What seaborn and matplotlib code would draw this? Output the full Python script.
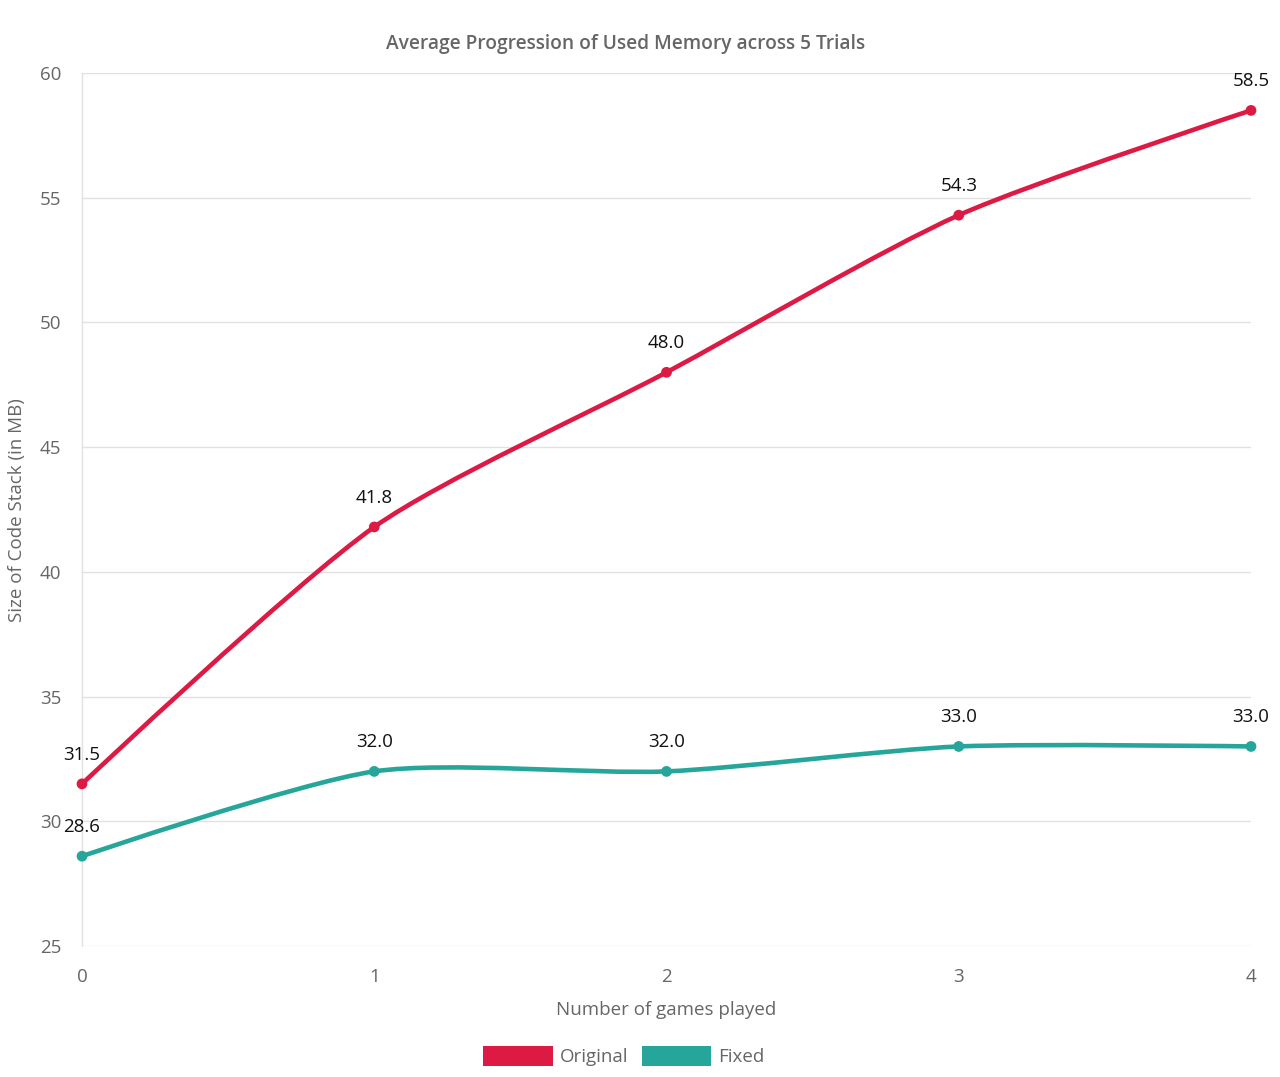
import numpy as np
import pandas as pd
import matplotlib
matplotlib.use("Agg")
import matplotlib.pyplot as plt
from matplotlib.path import Path
from matplotlib.patches import PathPatch, Patch
import seaborn as sns

games = [0, 1, 2, 3, 4]
original = [31.5, 41.8, 48.0, 54.3, 58.5]
fixed = [28.6, 32.0, 32.0, 33.0, 33.0]
series_names = ["Original", "Fixed"]
colors = {"Original": "#DC1A44", "Fixed": "#26A69A"}
title = "Average Progression of Used Memory across 5 Trials"
xlabel = "Number of games played"
ylabel = "Size of Code Stack (in MB)"
yticks = [25, 30, 35, 40, 45, 50, 55, 60]

sns.set_theme(style="white")
plt.rcParams['font.family'] = ['Open Sans', 'DejaVu Sans']

df = pd.concat([
    pd.DataFrame({"games": games, "value": original, "series": "Original"}),
    pd.DataFrame({"games": games, "value": fixed, "series": "Fixed"}),
])

W, H = 1280, 1077
fig = plt.figure(figsize=(W / 100, H / 100), dpi=100)
L, R, T, B = 82, 1251, 73, 946
ax = fig.add_axes([L / W, 1 - B / H, (R - L) / W, (B - T) / H])
ax.set_xlim(0, 4)
ax.set_ylim(25, 60)

grid_c = "#e1e1e1"
ax.set_yticks(yticks)
ax.set_xticks(games)
ax.grid(axis="y", color=grid_c, linewidth=1)
ax.grid(axis="x", visible=False)
for s in ["top", "right", "bottom"]:
    ax.spines[s].set_visible(False)
ax.spines["left"].set_color(grid_c)
ax.spines["left"].set_linewidth(1)
ax.tick_params(axis="y", length=11, color=grid_c, labelsize=13.5, labelcolor="#666666", pad=4)
ax.tick_params(axis="x", length=8, color=grid_c, labelsize=13.5, labelcolor="#666666", pad=8)
ax.set_axisbelow(True)

# smooth curve (Chart.js style bezier) computed in pixel space
sx = (R - L) / 4.0
sy = (B - T) / 35.0

def spline_path(xs, ys, tension=0.25):
    px = np.array(xs, float) * sx
    py = np.array(ys, float) * sy
    n = len(px)
    cin = [None] * n
    cout = [None] * n
    for i in range(n):
        p = np.array([px[i], py[i]])
        if i == 0 or i == n - 1:
            cin[i] = p.copy(); cout[i] = p.copy(); continue
        p0 = np.array([px[i - 1], py[i - 1]])
        p2 = np.array([px[i + 1], py[i + 1]])
        d01 = np.hypot(*(p - p0)); d12 = np.hypot(*(p2 - p))
        s01 = d01 / (d01 + d12); s12 = d12 / (d01 + d12)
        cin[i] = p - tension * s01 * (p2 - p0)
        cout[i] = p + tension * s12 * (p2 - p0)
    verts = [(px[0], py[0])]
    codes = [Path.MOVETO]
    for i in range(n - 1):
        verts += [tuple(cout[i]), tuple(cin[i + 1]), (px[i + 1], py[i + 1])]
        codes += [Path.CURVE4] * 3
    verts = [(vx / sx, vy / sy) for vx, vy in verts]
    return Path(verts, codes)

for name, vals in [("Original", original), ("Fixed", fixed)]:
    patch = PathPatch(spline_path(games, vals), facecolor="none", edgecolor=colors[name],
                      linewidth=3.3, capstyle="round", joinstyle="round", zorder=3, clip_on=False)
    ax.add_patch(patch)

sns.scatterplot(data=df, x="games", y="value", hue="series", palette=colors, s=60,
                edgecolor="none", ax=ax, legend=False, zorder=4, clip_on=False)

for name, vals in [("Original", original), ("Fixed", fixed)]:
    for xg, v in zip(games, vals):
        ax.annotate(f"{v:.1f}", (xg, v), xytext=(0, 21), textcoords="offset points",
                    ha="center", va="center", fontsize=13.5, color="#111111",
                    annotation_clip=False, zorder=5)

ax.set_xlabel("")
ax.set_ylabel("")
fig.text(626 / W, 1 - 44 / H, title, ha="center", va="center", fontsize=13.8,
         fontweight="semibold", color="#666666")
fig.text(666 / W, 1 - 1010 / H, xlabel, ha="center", va="center", fontsize=13.5, color="#666666")
fig.text(17 / W, 1 - 510 / H, ylabel, ha="center", va="center", rotation=90,
         fontsize=13.5, color="#666666")

handles = [Patch(facecolor=colors[n], edgecolor="none") for n in series_names]
fig.legend(handles, series_names, loc="center", bbox_to_anchor=(624 / W, 1 - 1056 / H),
           ncol=2, frameon=False, fontsize=13.5, handlelength=3.7, handleheight=1.3,
           handletextpad=0.4, columnspacing=0.7, labelcolor="#666666")

fig.savefig("out.png", dpi=100)
